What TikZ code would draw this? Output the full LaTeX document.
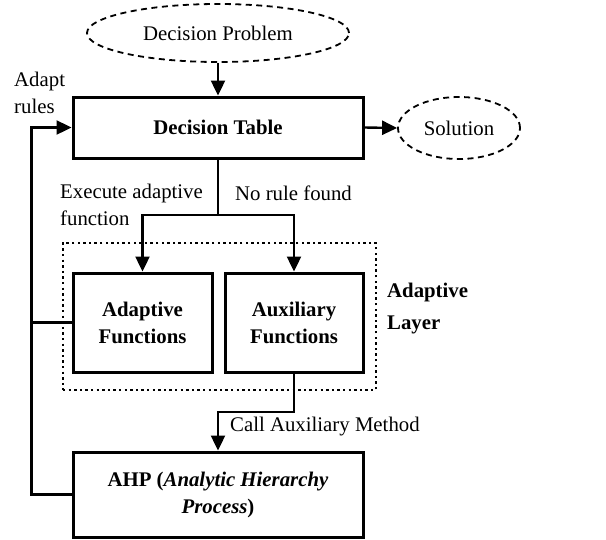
\documentclass[tikz,border=0pt]{standalone}
\usepackage{fontspec}
\setmainfont{Liberation Serif}
\usetikzlibrary{arrows.meta,shapes.geometric}
\begin{document}
\begin{tikzpicture}[x=1pt,y=-1pt,
  font=\fontsize{20.8}{27}\selectfont,
  box/.style={draw, line width=3pt, align=center, inner sep=0pt,
    font=\fontsize{20.8}{27}\selectfont\bfseries},
  oval/.style={draw, ellipse, inner sep=0pt, line width=1.8pt, dash pattern=on 6pt off 4.5pt},
  laybox/.style={draw, inner sep=0pt, line width=2.4pt, dash pattern=on 2.4pt off 3.2pt},
  conn/.style={line width=2.4pt},
  arr/.style={conn, -{Triangle[length=15pt,width=14pt]}},
  lbl/.style={anchor=west, inner sep=0pt, align=left}]
\useasboundingbox (0,0) rectangle (606,539);

\node[oval, minimum width=262pt, minimum height=58pt] (dp) at (218,33) {Decision Problem};
\node[box, minimum width=290pt, minimum height=61pt] (dt) at (218,127.5) {Decision Table};
\node[oval, minimum width=122pt, minimum height=62pt] (sol) at (459,128) {\mdseries Solution};
\node[laybox, minimum width=313pt, minimum height=147pt] (layer) at (219.5,316.5) {};
\node[box, minimum width=139pt, minimum height=99pt] (af) at (142.5,322.5) {Adaptive\\Functions};
\node[box, minimum width=138pt, minimum height=99pt] (xf) at (294,322.5) {Auxiliary\\Functions};
\node[box, minimum width=290pt, minimum height=85pt] (ahp) at (218,494.5)
  {AHP (\textit{Analytic Hierarchy}\\\textit{Process})};

\node[lbl] (adapt) at (14,93) {Adapt\\rules};
\node[lbl] (exec) at (60,205) {Execute adaptive\\function};
\node[lbl] (norule) at (235,193) {No rule found};
\node[lbl, font=\fontsize{20.8}{32}\selectfont\bfseries] (laytxt) at (387,309) {Adaptive\\Layer};
\node[lbl] (call) at (230,427) {Call Auxiliary Method};

\coordinate (split) at (218,215);
\coordinate (bend) at (294,412);

\draw[arr] (dp.south) -- (dt.north);
\draw[arr] (dt.east) -- (sol.west);
\draw[conn] (dt.south) -- (split);
\draw[arr] (split) -| (af.north);
\draw[arr] (split) -| (xf.north);
\draw[arr] (xf.south) -- (bend) -| (ahp.north);
\draw[arr] (ahp.west) -- ++(-40,0) |- (dt.west);
\draw[conn] (af.west) -- ++(-40,0);
\end{tikzpicture}
\end{document}
